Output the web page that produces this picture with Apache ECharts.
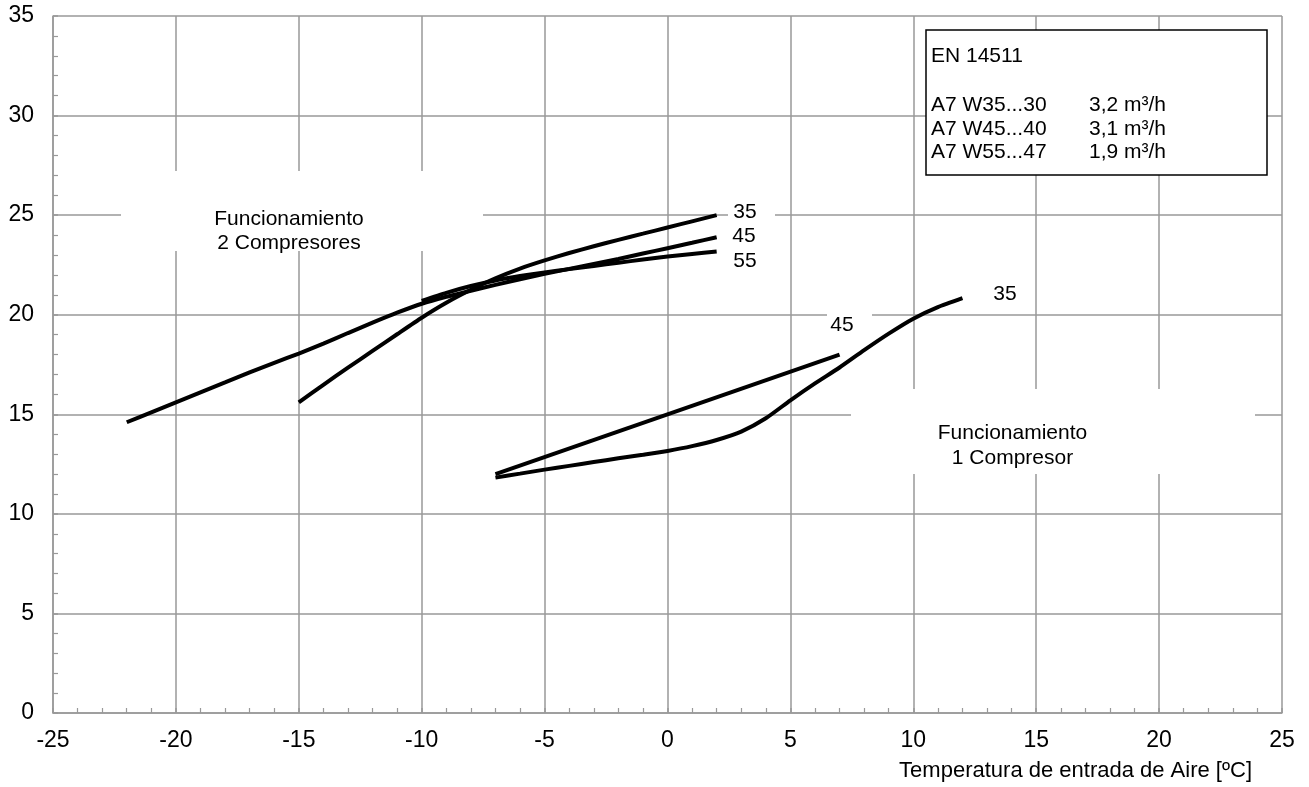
<!DOCTYPE html>
<html>
<head>
<meta charset="utf-8">
<script src="https://cdn.jsdelivr.net/npm/echarts@6/dist/echarts.min.js"></script>
<style>html,body{margin:0;padding:0;background:#fff;}#c{width:1309px;height:787px;}</style>
</head>
<body>
<div id="c"></div>
<script>
// ---- data ----
const x2c35 = [-15,-14,-13,-12,-11,-10,-9,-8,-7,-6,-5,-4,-3,-2,-1,0,1,2];
const y2c35 = [15.6,16.48,17.34,18.18,19.02,19.85,20.6,21.25,21.83,22.32,22.73,23.1,23.44,23.76,24.07,24.38,24.69,25.0];

const x2c45 = [-22,-21,-20,-19,-18,-17,-16,-15,-14,-13,-12,-11,-10,-9,-8,-7,-6,-5,-4,-3,-2,-1,0,1,2];
const y2c45 = [14.6,15.1,15.6,16.1,16.6,17.1,17.58,18.05,18.55,19.08,19.6,20.1,20.55,20.9,21.2,21.5,21.78,22.05,22.3,22.55,22.8,23.07,23.34,23.61,23.89];

const x2c55 = [-10,-9,-8,-7,-6,-5,-4,-3,-2,-1,0,1,2];
const y2c55 = [20.7,21.1,21.44,21.72,21.94,22.12,22.29,22.45,22.61,22.77,22.92,23.05,23.17];

const x1c45 = [-7,7];
const y1c45 = [12.0,18.0];

const x1c35 = [-7,-6,-5,-4,-3,-2,-1,0,1,2,3,4,5,6,7,8,9,10,11,12];
const y1c35 = [11.82,12.02,12.22,12.41,12.6,12.79,12.97,13.16,13.4,13.71,14.13,14.8,15.7,16.55,17.35,18.22,19.05,19.8,20.38,20.83];

const xTicks = {min:-25, max:25, step:5};
const yTicks = {min:0, max:35, step:5};

const legendLines = ['A7 W35...30','A7 W45...40','A7 W55...47'];
const legendFlows = ['3,2 m³/h','3,1 m³/h','1,9 m³/h'];

// ---- chart ----
const FONT = 'Liberation Sans, Arial, sans-serif';
const GRAY = '#999';
const pairs = (xs, ys) => xs.map((x, i) => [x, ys[i]]);

function lineSeries(name, data, smooth) {
  return {
    name, type: 'line', data, smooth: smooth,
    showSymbol: false, symbol: 'none', z: 3,
    lineStyle: {color: '#000', width: 4},
    emphasis: {disabled: true}
  };
}

const chart = echarts.init(document.getElementById('c'), null, {renderer: 'canvas'});

const txt = (x, y, text, align, size) => ({
  type: 'text', z: 6, x, y,
  style: {text, fill: '#000', font: (size || 21) + 'px ' + FONT, align: align || 'center', verticalAlign: 'middle'}
});
const whiteRect = (x, y, w, h) => ({type: 'rect', z: 5, shape: {x, y, width: w, height: h}, style: {fill: '#fff'}});

const graphics = [
  // region label boxes
  whiteRect(121, 171, 362, 80),
  txt(289, 219, 'Funcionamiento'),
  txt(289, 243, '2 Compresores'),
  whiteRect(851, 389, 404, 85),
  txt(1012.5, 433, 'Funcionamiento'),
  txt(1012.5, 458, '1 Compresor'),
  // curve labels
  whiteRect(728, 201, 47, 24),
  txt(745, 212, '35'),
  txt(744, 236.5, '45'),
  txt(745, 261, '55'),
  whiteRect(827, 302, 45, 24),
  txt(842, 325, '45'),
  txt(1005, 294, '35'),
  // legend box
  {type: 'rect', z: 5, shape: {x: 926, y: 30, width: 341, height: 145}, style: {fill: '#fff', stroke: '#000', lineWidth: 1.5}},
  txt(931, 56, 'EN 14511', 'left'),
  // axis title
  txt(1252, 771, 'Temperatura de entrada de Aire [ºC]', 'right', 22)
];
const rowY = [105, 129, 152.5];
legendLines.forEach((t, i) => {
  graphics.push(txt(931, rowY[i], t, 'left'));
  graphics.push(txt(1166, rowY[i], legendFlows[i], 'right'));
});

chart.setOption({
  animation: false,
  backgroundColor: '#fff',
  grid: {left: 53, top: 16, right: 27, bottom: 74, containLabel: false},
  xAxis: {
    type: 'value', min: xTicks.min, max: xTicks.max, interval: xTicks.step,
    axisLine: {show: true, onZero: false, lineStyle: {color: GRAY, width: 1.5}},
    axisTick: {show: true, inside: true, length: 5, lineStyle: {color: GRAY, width: 1.5}},
    minorTick: {show: true, splitNumber: 5, length: 5, lineStyle: {color: GRAY, width: 1.2}},
    splitLine: {show: true, lineStyle: {color: GRAY, width: 1.5}},
    axisLabel: {color: '#000', fontSize: 23, fontFamily: FONT, margin: 16, showMinLabel: true, showMaxLabel: true}
  },
  yAxis: {
    type: 'value', min: yTicks.min, max: yTicks.max, interval: yTicks.step,
    axisLine: {show: true, onZero: false, lineStyle: {color: GRAY, width: 1.5}},
    axisTick: {show: true, inside: true, length: 5, lineStyle: {color: GRAY, width: 1.5}},
    minorTick: {show: true, splitNumber: 5, length: 5, lineStyle: {color: GRAY, width: 1.2}},
    splitLine: {show: true, lineStyle: {color: GRAY, width: 1.5}},
    axisLabel: {color: '#000', fontSize: 23, fontFamily: FONT, margin: 19, showMinLabel: true, showMaxLabel: true}
  },
  series: [
    lineSeries('2C-35', pairs(x2c35, y2c35), 0.2),
    lineSeries('2C-45', pairs(x2c45, y2c45), 0.2),
    lineSeries('2C-55', pairs(x2c55, y2c55), 0.2),
    lineSeries('1C-45', pairs(x1c45, y1c45), false),
    lineSeries('1C-35', pairs(x1c35, y1c35), 0.2)
  ],
  graphic: {elements: graphics}
});
</script>
</body>
</html>
